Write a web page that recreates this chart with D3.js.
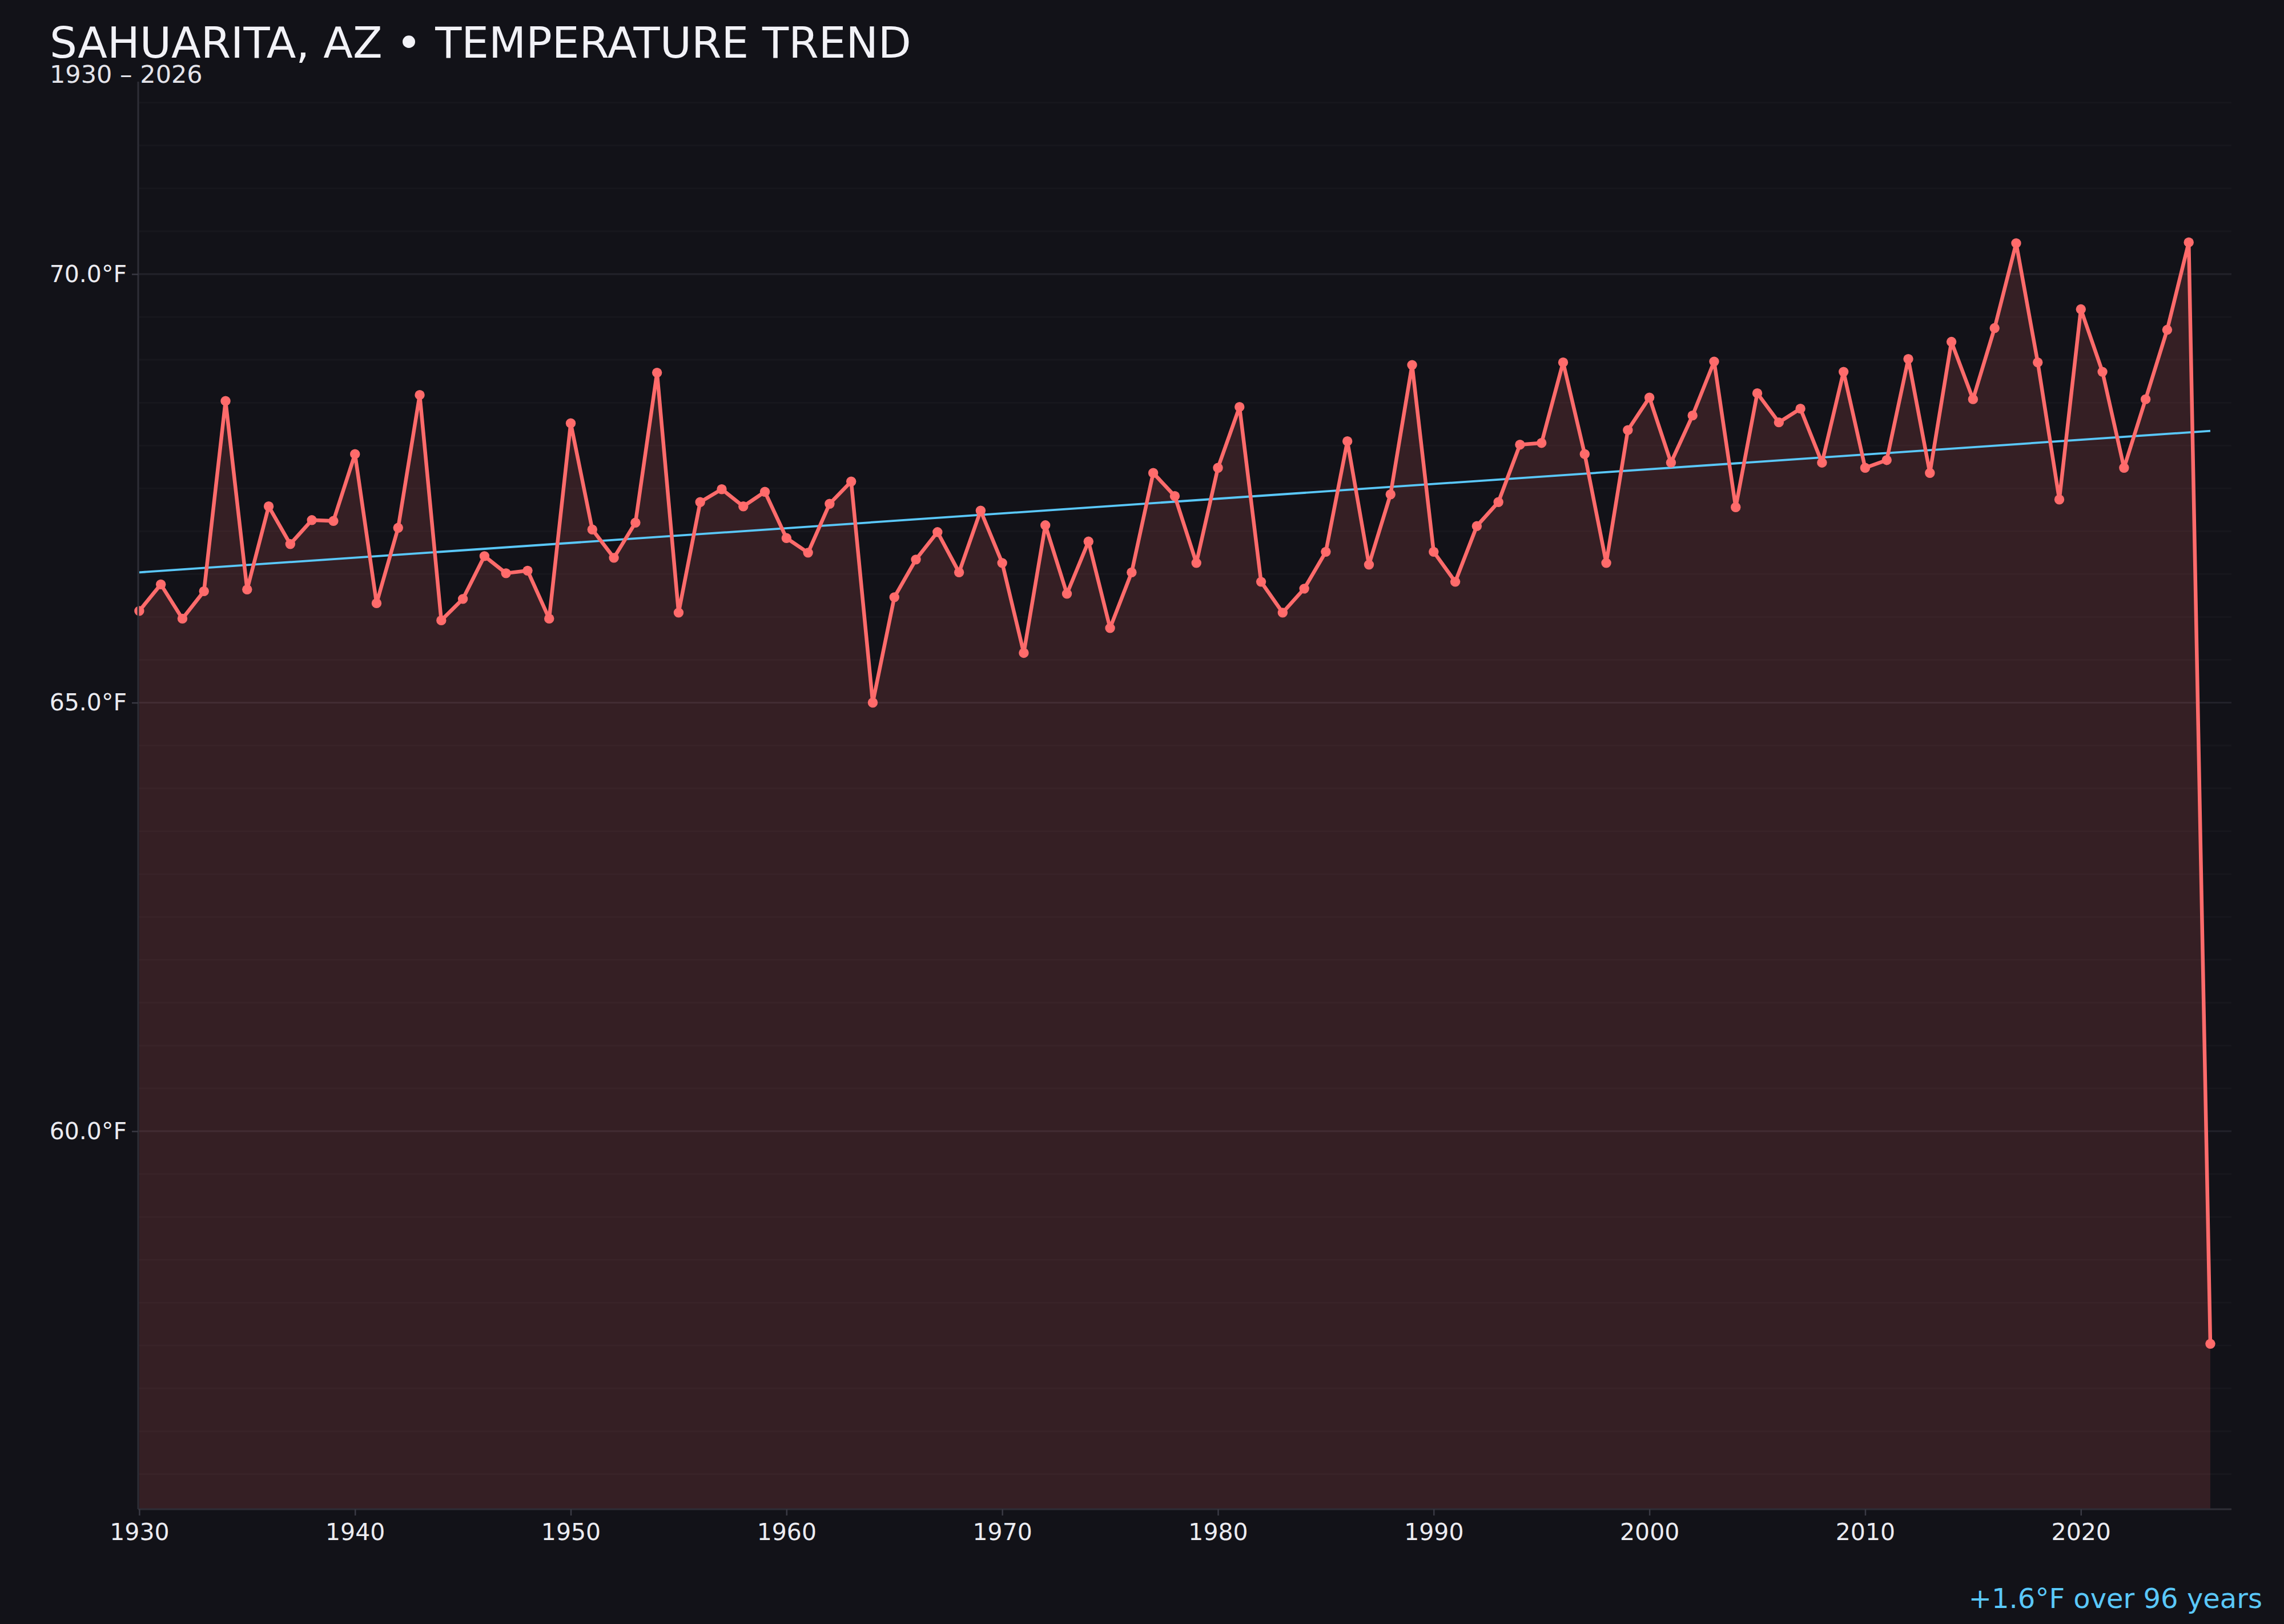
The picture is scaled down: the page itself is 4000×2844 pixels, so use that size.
<!DOCTYPE html>
<html>
<head>
<meta charset="utf-8">
<script src="https://cdn.jsdelivr.net/npm/d3@7"></script>
<style>
  html, body { margin: 0; padding: 0; background: #121218; }
  svg { display: block; font-family: "DejaVu Sans", sans-serif; }
</style>
</head>
<body>
<div id="chart"></div>
<script>
// Annual mean temperature, Sahuarita AZ
const firstYear = 1930;
const lastYear = 2026;
const temps = [
  66.07, 66.38, 65.98, 66.30, 68.52, 66.32, 67.29, 66.85, 67.13, 67.12, // 1930s
  67.90, 66.16, 67.04, 68.59, 65.96, 66.21, 66.71, 66.51, 66.54, 65.98, // 1940s
  68.26, 67.02, 66.69, 67.10, 68.85, 66.05, 67.34, 67.49, 67.29, 67.46, // 1950s
  66.92, 66.75, 67.32, 67.58, 65.00, 66.23, 66.67, 66.99, 66.52, 67.24, // 1960s
  66.63, 65.58, 67.07, 66.27, 66.88, 65.87, 66.52, 67.68, 67.41, 66.63, // 1970s
  67.74, 68.45, 66.41, 66.05, 66.33, 66.76, 68.05, 66.61, 67.43, 68.94, // 1980s
  66.76, 66.41, 67.06, 67.34, 68.01, 68.03, 68.97, 67.90, 66.63, 68.18, // 1990s
  68.56, 67.80, 68.35, 68.98, 67.28, 68.61, 68.27, 68.43, 67.80, 68.86, // 2000s
  67.74, 67.83, 69.01, 67.68, 69.21, 68.54, 69.37, 70.36, 68.97, 67.37, // 2010s
  69.59, 68.86, 67.74, 68.54, 69.35, 70.37, 57.52                       // 2020s
];
const years = d3.range(firstYear, lastYear + 1);

// trend line end values (1930, 2026)
const trendYears = [1930, 2026];
const trendValues = [66.52, 68.17];

const xTicks = [1930, 1940, 1950, 1960, 1970, 1980, 1990, 2000, 2010, 2020];
const yTicks = [60, 65, 70];
const yDomain = [55.59, 72.245];

const titleText = "SAHUARITA, AZ \u2022 TEMPERATURE TREND";
const subtitleText = "1930 \u2013 2026";
const noteText = "+1.6\u00B0F over 96 years";

const data = years.map((y, i) => ({ year: y, value: temps[i] }));

const W = 4000, H = 2844;
const plot = { left: 242, right: 3908, top: 143, bottom: 2643 };

const svg = d3.select("#chart").append("svg")
  .attr("width", W)
  .attr("height", H);

svg.append("rect").attr("width", W).attr("height", H).attr("fill", "#121218");

const x = d3.scaleLinear()
  .domain([1929.95, 2026.98])
  .range([plot.left, plot.right]);

const y = d3.scaleLinear()
  .domain(yDomain)
  .range([plot.bottom, plot.top]);

// very faint grid every 0.5°F, a bit stronger at labelled ticks
const minor = d3.range(Math.ceil(yDomain[0] * 2) / 2, yDomain[1], 0.5);
svg.append("g")
  .selectAll("line")
  .data(minor)
  .join("line")
  .attr("x1", plot.left)
  .attr("x2", plot.right)
  .attr("y1", d => y(d))
  .attr("y2", d => y(d))
  .attr("stroke", d => yTicks.includes(d) ? "#22222a" : "#17171d")
  .attr("stroke-width", 3);

// area under the line
const area = d3.area()
  .x(d => x(d.year))
  .y0(y(yDomain[0]))
  .y1(d => y(d.value));

svg.append("path")
  .datum(data)
  .attr("d", area)
  .attr("fill", "#ff6b6b")
  .attr("fill-opacity", 0.15);

// trend
svg.append("line")
  .attr("x1", x(trendYears[0]))
  .attr("x2", x(trendYears[1]))
  .attr("y1", y(trendValues[0]))
  .attr("y2", y(trendValues[1]))
  .attr("stroke", "#5ac8fa")
  .attr("stroke-width", 3.8);

// temperature line + markers
const line = d3.line()
  .x(d => x(d.year))
  .y(d => y(d.value));

svg.append("path")
  .datum(data)
  .attr("d", line)
  .attr("fill", "none")
  .attr("stroke", "#ff6b6b")
  .attr("stroke-width", 6.5)
  .attr("stroke-linejoin", "round");

svg.append("g")
  .selectAll("circle")
  .data(data)
  .join("circle")
  .attr("cx", d => x(d.year))
  .attr("cy", d => y(d.value))
  .attr("r", 8.7)
  .attr("fill", "#ff6b6b");

// axes
const xAxis = svg.append("g")
  .attr("transform", `translate(0,${plot.bottom})`)
  .call(d3.axisBottom(x).tickValues(xTicks).tickFormat(d3.format("d")).tickSize(11).tickPadding(14));

const yAxis = svg.append("g")
  .attr("transform", `translate(${plot.left},0)`)
  .call(d3.axisLeft(y).tickValues(yTicks).tickFormat(d => d.toFixed(1) + "\u00B0F").tickSize(11).tickPadding(9));

[xAxis, yAxis].forEach(g => {
  g.select(".domain").attr("stroke", "#2e2e37").attr("stroke-width", 3);
  g.selectAll(".tick line").attr("stroke", "#3a3a44").attr("stroke-width", 2.5);
  g.selectAll(".tick text")
    .attr("fill", "#ececf1")
    .style("font-family", "'DejaVu Sans', sans-serif")
    .style("font-size", "41px");
});
// flat spines, no outer ticks
yAxis.select(".domain").attr("d", `M0,${plot.top}V${plot.bottom}`);
xAxis.select(".domain").attr("d", `M${plot.left},0H${plot.right}`);

// titles
svg.append("text")
  .attr("x", 87)
  .attr("y", 101)
  .attr("fill", "#f2f2f7")
  .style("font-size", "75.5px")
  .text(titleText);

svg.append("text")
  .attr("x", 87)
  .attr("y", 145)
  .attr("fill", "#e4e4ea")
  .style("font-size", "43px")
  .text(subtitleText);

svg.append("text")
  .attr("x", 3962)
  .attr("y", 2816)
  .attr("text-anchor", "end")
  .attr("fill", "#5ac8fa")
  .style("font-size", "48px")
  .text(noteText);
</script>
</body>
</html>
